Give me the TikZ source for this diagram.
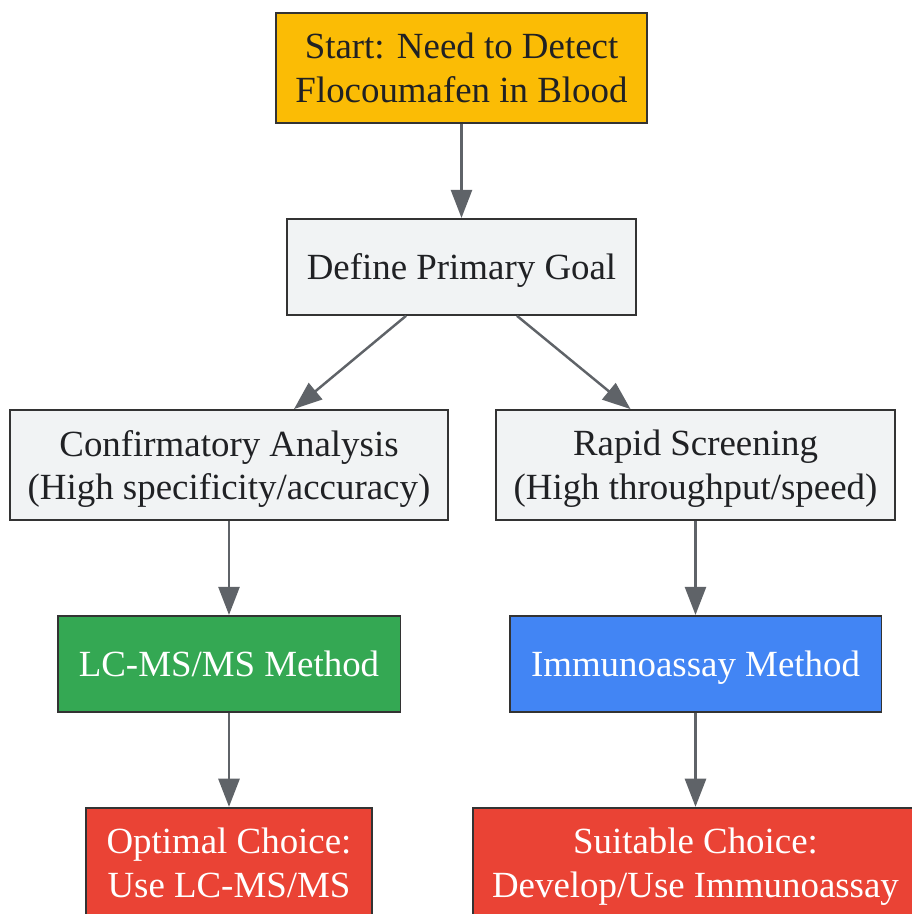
\documentclass[tikz,border=0pt]{standalone}
\usepackage{fontspec}
\setmainfont{Liberation Serif}
\usetikzlibrary{arrows.meta, positioning}

\definecolor{startyellow}{HTML}{FBBC05}
\definecolor{stepgray}{HTML}{F1F3F4}
\definecolor{lcgreen}{HTML}{34A853}
\definecolor{iablue}{HTML}{4285F4}
\definecolor{choicered}{HTML}{EA4335}
\definecolor{edgegray}{HTML}{5F6368}
\definecolor{inkdark}{HTML}{202124}

\begin{document}
\begin{tikzpicture}[>={Triangle[length=16pt, width=12pt]}, x=0.02cm, y=-0.02cm, node distance=1.88cm]
    \tikzstyle{box}=[rectangle, draw=black!80, line width=1.1pt, fill=stepgray, text=inkdark, align=center,
        font=\fontsize{21}{25}\selectfont, text depth=0pt, minimum height=2.2cm]
    \tikzstyle{flow}=[->, draw=edgegray, line width=1.4pt]

    \useasboundingbox (0,0) rectangle (912,914);

    \node[box, fill=startyellow, minimum width=7.42cm] (start) at (461.5,68) {Start: Need to Detect\\Flocoumafen in Blood};
    \node[box, minimum width=6.98cm, minimum height=1.92cm, below=of start] (goal) {Define Primary Goal};
    \node[box, minimum width=8.76cm] (confirm) at (229,465) {Confirmatory Analysis\\(High specificity/accuracy)};
    \node[box, minimum width=7.98cm] (rapid) at (695.5,465) {Rapid Screening\\(High throughput/speed)};
    \node[box, fill=lcgreen, text=white, minimum width=6.86cm, minimum height=1.92cm, below=of confirm] (lcms) {LC-MS/MS Method};
    \node[box, fill=iablue, text=white, minimum width=7.44cm, minimum height=1.92cm, below=of rapid] (immuno) {Immunoassay Method};
    \node[box, fill=choicered, text=white, minimum width=5.72cm, below=of lcms] (optimal) {Optimal Choice:\\Use LC-MS/MS};
    \node[box, fill=choicered, text=white, minimum width=8.92cm, below=of immuno] (suitable) {Suitable Choice:\\Develop/Use Immunoassay};

    \draw[flow] (start) -- (goal);
    \draw[flow] ([xshift=-1.11cm]goal.south) -- ([xshift=1.3cm]confirm.north);
    \draw[flow] ([xshift=1.11cm]goal.south) -- ([xshift=-1.3cm]rapid.north);
    \draw[flow] (confirm) -- (lcms);
    \draw[flow] (rapid) -- (immuno);
    \draw[flow] (lcms) -- (optimal);
    \draw[flow] (immuno) -- (suitable);
\end{tikzpicture}
\end{document}
